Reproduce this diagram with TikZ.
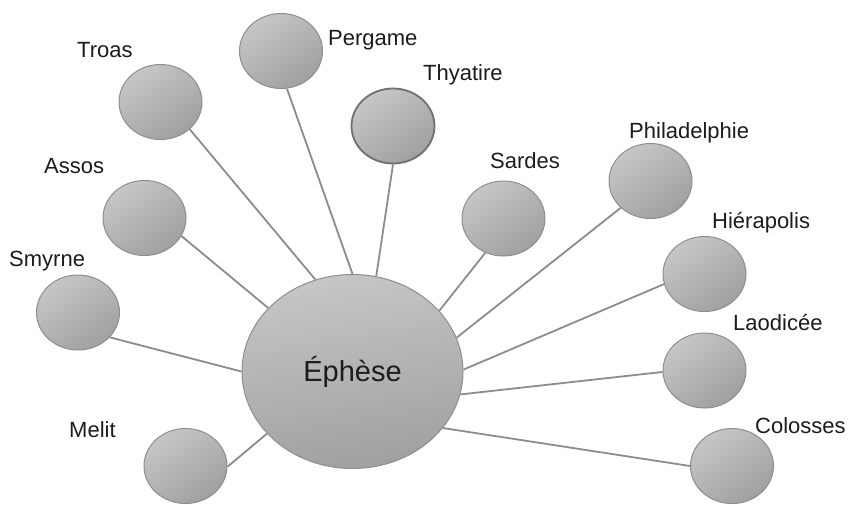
\documentclass[tikz,border=0pt]{standalone}
\usepackage{fontspec}
\setmainfont{Liberation Sans}
\usetikzlibrary{shapes.geometric}
\definecolor{ringgray}{HTML}{8E8E8E}
\definecolor{thyagray}{HTML}{707070}
\definecolor{linkgray}{HTML}{8C8C8C}
\definecolor{balllight}{HTML}{C6C6C6}
\definecolor{balldark}{HTML}{A0A0A0}
\definecolor{inkgray}{HTML}{1C1C1C}
\begin{document}
\begin{tikzpicture}[
    x=1pt, y=-1pt,
    city/.style={ellipse, draw=ringgray, line width=1pt, minimum width=83pt, minimum height=75pt,
        top color=balllight, bottom color=balldark, shading angle=35},
    hub/.style={city, minimum width=221pt, minimum height=194pt, shading angle=10,
        text=inkgray, font=\fontsize{29}{33}\selectfont},
    tag/.style={anchor=base west, inner sep=0pt, text=inkgray, font=\fontsize{22}{26}\selectfont},
    link/.style={draw=linkgray, line width=1.8pt}
]
\path[use as bounding box, fill=white] (0,0) rectangle (850,504);

% the centre
\node[hub] (ephese) at (352.5,371.5) {Éphèse};

% the other towns
\node[city] (troas) at (160.5,102) {};
\node[city] (pergame) at (281,51) {};
\node[city, draw=thyagray, line width=1.8pt] (thyatire) at (393,126) {};
\node[city] (assos) at (144.5,218) {};
\node[city] (smyrne) at (78,312.5) {};
\node[city] (melit) at (185.5,466) {};
\node[city] (sardes) at (503.5,218.5) {};
\node[city] (philadelphie) at (650.5,181) {};
\node[city] (hierapolis) at (704.5,274) {};
\node[city] (laodicee) at (704.5,370.5) {};
\node[city] (colosses) at (732,466) {};

% names
\node[tag] (troas-t) at (77,57) {Troas};
\node[tag] (pergame-t) at (328,45) {Pergame};
\node[tag] (thyatire-t) at (423,80) {Thyatire};
\node[tag] (assos-t) at (44,173) {Assos};
\node[tag] (smyrne-t) at (9,266) {Smyrne};
\node[tag] (melit-t) at (69,437) {Melit};
\node[tag] (sardes-t) at (490,168) {Sardes};
\node[tag] (philadelphie-t) at (629,138) {Philadelphie};
\node[tag] (hierapolis-t) at (712,228) {Hiérapolis};
\node[tag] (laodicee-t) at (733,330) {Laodicée};
\node[tag] (colosses-t) at (755,433) {Colosses};

% spokes
\draw[link] (troas.-43.5) -- (ephese.112.7);
\draw[link] (pergame.-81) -- (ephese.90.3);
\draw[link] (thyatire.-90) -- (ephese.76);
\draw[link] (assos.-26) -- (ephese.143.3);
\draw[link] (smyrne.-38.5) -- (ephese.180);
\draw[link] (melit.-1.4) -- (ephese.-144);
\draw[link] (sardes.-118.7) -- (ephese.35.4);
\draw[link] (philadelphie.-138.5) -- (ephese.18.1);
\draw[link] (hierapolis.-166.5) -- (ephese.1);
\draw[link] (laodicee.-178) -- (ephese.-12.1);
\draw[link] (colosses.180) -- (ephese.-32.9);
\end{tikzpicture}
\end{document}
